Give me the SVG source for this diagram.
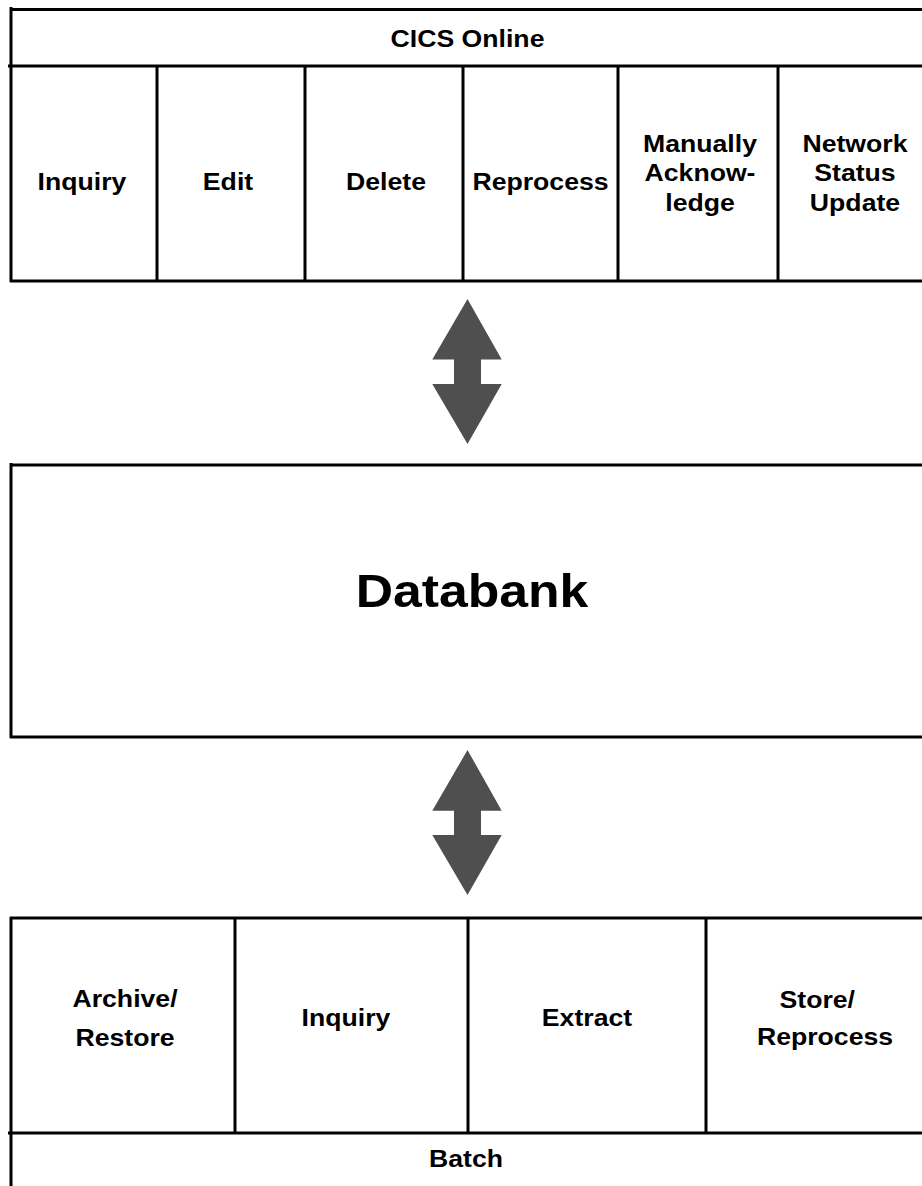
<svg xmlns="http://www.w3.org/2000/svg" width="922" height="1186" viewBox="0 0 922 1186">
<style>
.ln{stroke:#000;stroke-width:3;fill:none}
.t{font-family:"Liberation Sans",Arial,sans-serif;font-weight:bold;font-size:24px;fill:#000;text-anchor:middle}
.big{font-size:47px}
.arr{fill:#4f4f4f;stroke:none}
</style>
<rect width="922" height="1186" fill="#fff"/>
<g id="cics-online">
<path class="ln" d="M10 9.5H922M11 7V282M8 66H922M10 281H922M157 66V281M305 66V281M463 66V281M618 66V281M778 66V281"/>
<text class="t" transform="translate(467.5,46.5) scale(1.11,1)">CICS Online</text>
</g>
<g id="cics-inquiry"><text class="t" transform="translate(82,190) scale(1.11,1)">Inquiry</text></g>
<g id="cics-edit"><text class="t" transform="translate(228,190) scale(1.11,1)">Edit</text></g>
<g id="cics-delete"><text class="t" transform="translate(386,190) scale(1.11,1)">Delete</text></g>
<g id="cics-reprocess"><text class="t" transform="translate(540.5,190) scale(1.11,1)">Reprocess</text></g>
<g id="cics-manual-ack"><text class="t" transform="translate(700,152) scale(1.11,1)"><tspan x="0" y="0">Manually</tspan><tspan x="0" y="29.5">Acknow-</tspan><tspan x="0" y="59">ledge</tspan></text></g>
<g id="cics-network-status"><text class="t" transform="translate(855,152) scale(1.11,1)"><tspan x="0" y="0">Network</tspan><tspan x="0" y="29.5">Status</tspan><tspan x="0" y="59">Update</tspan></text></g>
<g id="databank">
<path class="ln" d="M10 465H922M11 463V738M10 737H922"/>
<text class="t big" transform="translate(472,606.5) scale(1.1,1)">Databank</text>
</g>
<g id="batch">
<path class="ln" d="M10 918H922M11 917V1186M235 918V1133M468 918V1133M706 918V1133M8 1133H922"/>
<text class="t" transform="translate(466,1167) scale(1.11,1)">Batch</text>
</g>
<g id="batch-archive"><text class="t" transform="translate(125,1007) scale(1.11,1)"><tspan x="0" y="0">Archive/</tspan><tspan x="0" y="39">Restore</tspan></text></g>
<g id="batch-inquiry"><text class="t" transform="translate(346,1026) scale(1.11,1)">Inquiry</text></g>
<g id="batch-extract"><text class="t" transform="translate(587,1026) scale(1.11,1)">Extract</text></g>
<g id="batch-store"><text class="t" transform="translate(825,1008) scale(1.11,1)"><tspan x="-7" y="0">Store/</tspan><tspan x="0" y="37.5">Reprocess</tspan></text></g>
<g id="connectors">
<polygon class="arr" points="467.5,299 501.7,359.5 481,359.5 481,384 501.7,384 467.5,444 432.3,384 454,384 454,359.5 432.3,359.5"/>
<polygon class="arr" points="467.5,750 501.7,810.7 481,810.7 481,835 501.7,835 467.5,895 432.3,835 454,835 454,810.7 432.3,810.7"/>
</g>
</svg>
